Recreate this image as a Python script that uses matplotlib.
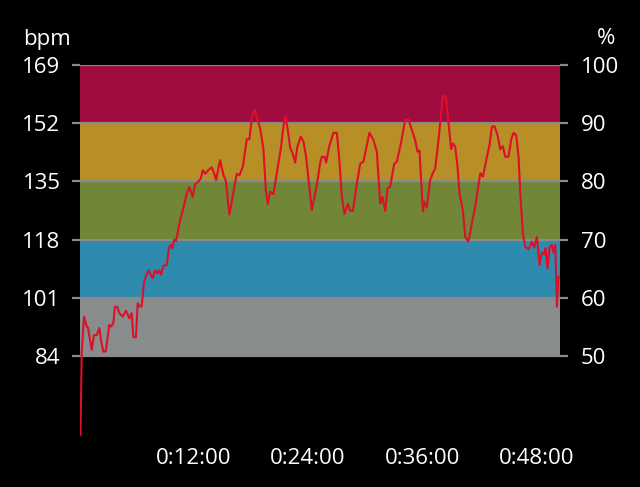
import matplotlib
matplotlib.use("Agg")
import matplotlib.pyplot as plt
from matplotlib.ticker import FixedLocator

plt.rcParams['font.family'] = ['Open Sans', 'DejaVu Sans']

# zone boundaries (bpm) and colours (bottom -> top)
zone_edges = [84, 101, 118, 135, 152, 169]
zone_colors = ['#898c8c', '#2f8bad', '#718637', '#b88f26', '#a00b40']
pct_ticks = [50, 60, 70, 80, 90, 100]
time_ticks_min = [12, 24, 36, 48]
time_labels = ['0:12:00', '0:24:00', '0:36:00', '0:48:00']

# heart-rate trace: time (minutes) and bpm
t_min = [0.05, 0.18, 0.42, 0.71, 0.84, 1.23, 1.47, 1.76, 2.03, 2.21, 2.45, 2.71,
         3.08, 3.29, 3.51, 3.68, 3.93, 4.14, 4.49, 4.84, 5.19, 5.44, 5.61, 5.89,
         6.07, 6.32, 6.49, 6.74, 7.19, 7.65, 7.89, 8.14, 8.35, 8.53, 8.77, 9.13,
         9.37, 9.55, 9.72, 9.89, 10.11, 10.53, 10.87, 11.23, 11.51, 11.86, 12.11,
         12.45, 12.71, 12.92, 13.16, 13.51, 13.86, 14.11, 14.32, 14.74, 15.08,
         15.34, 15.72, 16.14, 16.49, 16.77, 17.13, 17.55, 17.82, 18.07, 18.35,
         18.60, 18.95, 19.29, 19.55, 19.76, 20.00, 20.35, 20.71, 21.13, 21.40,
         21.61, 21.86, 22.11, 22.39, 22.63, 22.87, 23.23, 23.51, 23.79, 24.14,
         24.39, 24.92, 25.26, 25.44, 25.72, 25.89, 26.21, 26.66, 27.02, 27.29,
         27.55, 27.82, 28.18, 28.42, 28.71, 29.13, 29.47, 29.82, 30.45, 30.87,
         31.23, 31.58, 31.82, 32.11, 32.35, 32.63, 33.05, 33.34, 33.76, 34.21,
         34.56, 34.92, 35.26, 35.51, 35.72, 36.07, 36.24, 36.49, 36.84, 37.13,
         37.37, 37.72, 37.97, 38.18, 38.49, 38.77, 39.05, 39.23, 39.47, 39.72,
         39.93, 40.28, 40.53, 40.87, 41.23, 41.58, 41.82, 42.11, 42.39, 42.74,
         43.08, 43.34, 43.61, 43.93, 44.21, 44.49, 44.74, 45.08, 45.37, 45.61,
         45.89, 46.14, 46.32, 46.60, 46.84, 47.19, 47.55, 47.79, 48.07, 48.35,
         48.60, 48.84, 48.98, 49.19, 49.40, 49.65, 49.82, 50.00, 50.18, 50.35]
bpm = [61, 85, 95.5, 92.6, 92.3, 85.8, 90.1, 90.1, 92.2, 88.7, 85.3, 85.3,
       93.1, 92.6, 93.6, 98.4, 98.3, 96.5, 95.5, 97.2, 95, 96.5, 89.5, 89.5,
       99.4, 98.4, 98.5, 105.7, 109.1, 106.7, 109, 108.2, 109, 107.7, 110.4, 110.5,
       115.7, 116.4, 115.4, 118, 117.6, 123.7, 127.1, 131.5, 133.3, 130.5, 134.2,
       134.9, 135.9, 138.3, 137.2, 138.3, 139.1, 137.4, 135.4, 141.2, 137,
       135.2, 125.3, 131.7, 137.2, 136.8, 139.3, 147.3, 147.3, 153.4, 156.0,
       153.9, 150.5, 144.7, 132.5, 128.4, 132, 131.3, 137.4, 144.7, 151,
       154.1, 150, 144.9, 143, 140.5, 145.1, 148.1, 146.6, 142.2, 133,
       126.6, 134, 140.3, 142.2, 142.2, 140.5, 145.1, 149.2, 149.2, 141.2,
       130.5, 125.5, 128.4, 126.4, 126.4, 134.4, 140.1, 140.8, 149.2, 147.1,
       143.7, 128.6, 130.5, 126.4, 133, 133.4, 140.1, 140.8, 146.1, 152.9,
       153.1, 150, 147.1, 143.7, 144, 126.2, 129.1, 127.4, 135.4, 137.5,
       138.8, 147.1, 154.4, 159.9, 159.8, 152, 144.4, 146.1, 145.2, 139.3,
       131.5, 126.6, 118.8, 117.4, 122.8, 127.6, 132, 137.4, 136.4, 141.2,
       145.6, 151, 151.1, 148.5, 144.4, 145.3, 142.2, 142.2, 147.3, 149.2,
       148.5, 142.2, 131.5, 119.8, 115.9, 115.2, 117.4, 115.7, 118.8, 110.6,
       114.2, 113.8, 115.4, 109.6, 115.9, 116.4, 114.2, 116.4, 98.4, 107.2]

fig = plt.figure(figsize=(6.4, 4.87), dpi=100, facecolor='black')
ax = fig.add_axes([80 / 640, 1 - 440 / 487, 480 / 640, 375 / 487])
ax.set_facecolor('black')

px_per_bpm = 291 / 85
y_lo = 84 - (440 - 356) / px_per_bpm
y_hi = 169
ax.set_ylim(y_lo, y_hi)
ax.set_xlim(0, 50.5)

for lo, hi, c in zip(zone_edges[:-1], zone_edges[1:], zone_colors):
    ax.axhspan(lo, hi, color=c, lw=0, zorder=1)
for e in zone_edges:
    ax.axhline(e, color='#8a8a8a', lw=1.6, zorder=2)

ax.plot(t_min, bpm, color='#dc1028', lw=1.5, zorder=3, solid_joinstyle='round')

for s in ax.spines.values():
    s.set_visible(False)

FS = 16
ax.yaxis.set_major_locator(FixedLocator(zone_edges))
ax.tick_params(axis='y', colors='#8a8a8a', labelcolor='white', length=6, width=1.6,
               pad=8, labelsize=FS)
ax.xaxis.set_major_locator(FixedLocator(time_ticks_min))
ax.set_xticklabels(time_labels)
ax.tick_params(axis='x', length=0, labelcolor='white', labelsize=FS, pad=6)

ax2 = ax.twinx()
p_lo = 50 + (y_lo - 84) * 10 / 17
ax2.set_ylim(p_lo, 100)
ax2.yaxis.set_major_locator(FixedLocator(pct_ticks))
ax2.tick_params(axis='y', colors='#8a8a8a', labelcolor='white', length=6, width=1.6,
                pad=9, labelsize=FS)
for s in ax2.spines.values():
    s.set_visible(False)

fig.text(47 / 640, 1 - 39 / 487, 'bpm', color='white', fontsize=FS,
         ha='center', va='center')
fig.text(606 / 640, 1 - 39 / 487, '%', color='white', fontsize=FS,
         ha='center', va='center')

fig.savefig('out.png', dpi=100, facecolor='black')
